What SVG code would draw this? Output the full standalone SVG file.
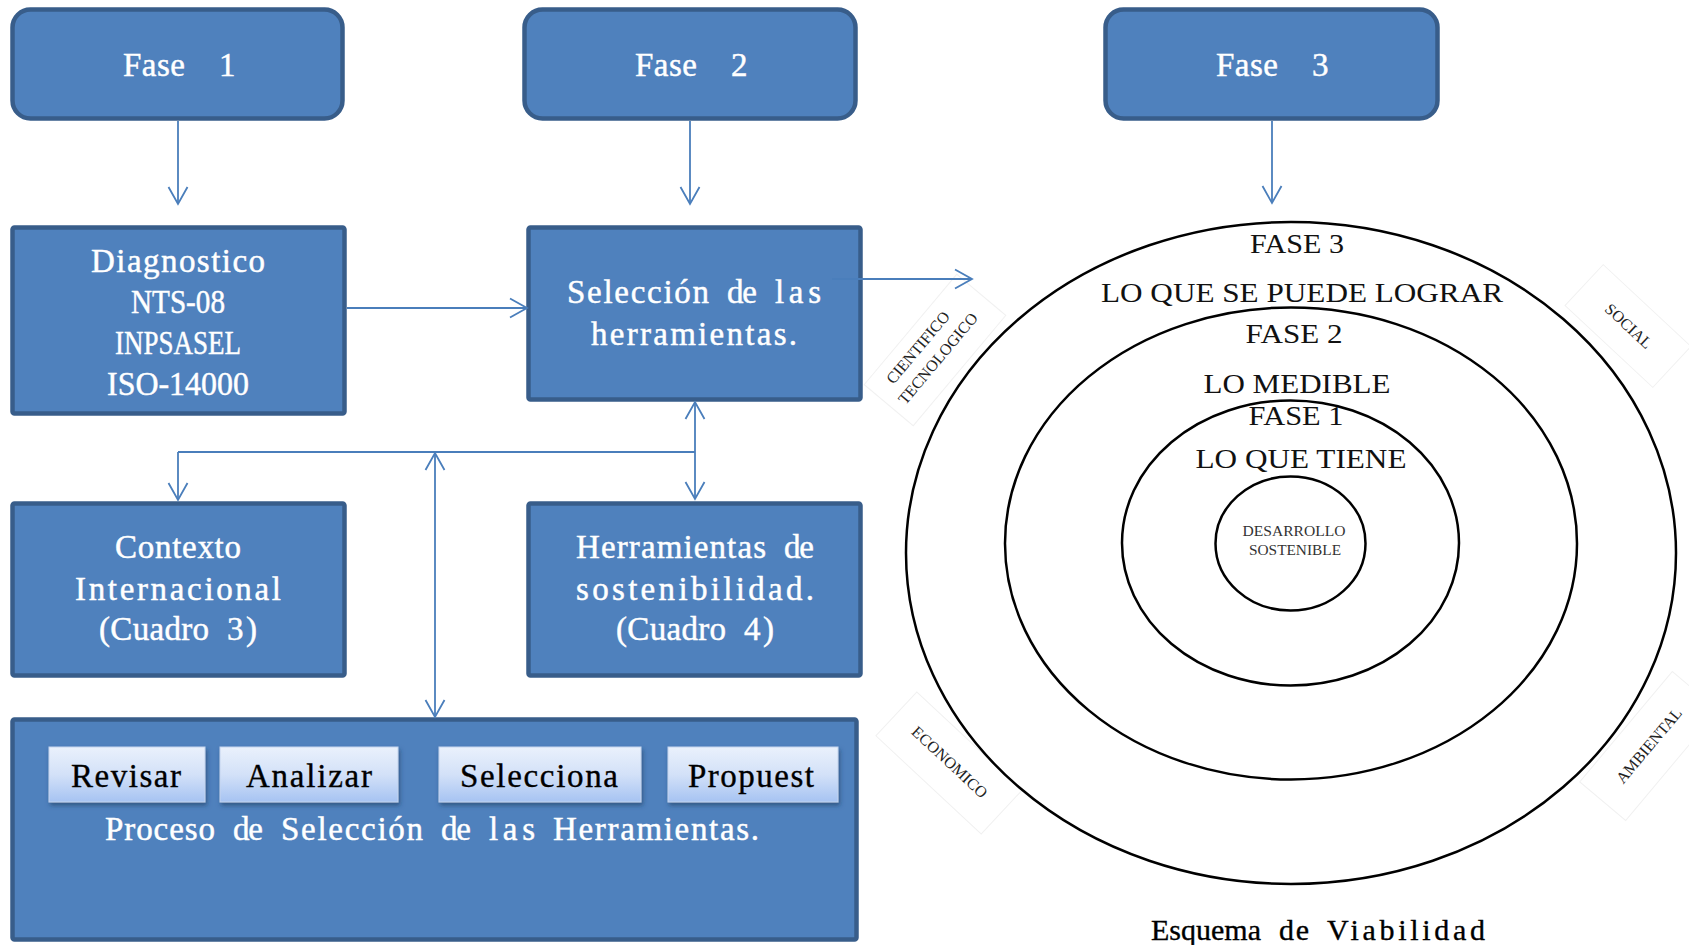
<svg xmlns="http://www.w3.org/2000/svg" width="1689" height="945" viewBox="0 0 1689 945">
<style>
.box{fill:#4F81BD;stroke:#385D8A;stroke-width:4.5}
.wt{font-family:"Liberation Serif",serif;font-size:33px;fill:#FFFFFF;stroke:#FFFFFF;stroke-width:0.45;text-anchor:start}
.bt{font-family:"Liberation Serif",serif;font-size:33px;fill:#000000;stroke:#000000;stroke-width:0.35;text-anchor:start}
.btn{fill:url(#btnGrad);stroke:#C3D4EE;stroke-width:1;filter:url(#sh)}
.conn{fill:none;stroke:#4A7EBB;stroke-width:1.8}
.ell{fill:none;stroke:#000000;stroke-width:2.5}
.et{font-family:"Liberation Serif",serif;font-size:27px;fill:#111111;text-anchor:middle}
.st{font-family:"Liberation Serif",serif;font-size:14px;fill:#333333;text-anchor:middle}
.lab{font-family:"Liberation Serif",serif;font-size:16px;fill:#222222;text-anchor:middle}
.faint{fill:none;stroke:#F1F1F1;stroke-width:1}
</style>
<defs>
<linearGradient id="btnGrad" x1="0" y1="0" x2="0" y2="1">
<stop offset="0" stop-color="#EAF1FC"/>
<stop offset="0.5" stop-color="#D3E1F8"/>
<stop offset="1" stop-color="#A6C3F2"/>
</linearGradient>
<filter id="sh" x="-10%" y="-20%" width="125%" height="160%">
<feDropShadow dx="1.5" dy="3" stdDeviation="2" flood-color="#1F3A60" flood-opacity="0.6"/>
</filter>
<marker id="arr" viewBox="0 0 18 20" refX="17.5" refY="10" markerWidth="18" markerHeight="20" markerUnits="userSpaceOnUse" orient="auto-start-reverse" overflow="visible">
<path d="M0.5,0.5 L17.5,10 L0.5,19.5" fill="none" stroke="#4A7EBB" stroke-width="1.8"/>
</marker>
</defs>
<rect x="0" y="0" width="1689" height="945" fill="#FFFFFF"/>

<g id="fase1">
<rect class="box" x="12.5" y="9.5" width="330" height="109" rx="18"/>
<text class="wt" y="76" xml:space="preserve"><tspan x="123" textLength="62" lengthAdjust="spacing">Fase</tspan>  <tspan x="219">1</tspan></text>
</g>
<g id="fase2">
<rect class="box" x="524.5" y="9.5" width="331" height="109" rx="18"/>
<text class="wt" y="76" xml:space="preserve"><tspan x="635" textLength="62" lengthAdjust="spacing">Fase</tspan>  <tspan x="731">2</tspan></text>
</g>
<g id="fase3">
<rect class="box" x="1105.5" y="9.5" width="332" height="109" rx="18"/>
<text class="wt" y="76" xml:space="preserve"><tspan x="1216" textLength="62" lengthAdjust="spacing">Fase</tspan>  <tspan x="1312">3</tspan></text>
</g>

<g id="diagnostico">
<rect class="box" x="12.5" y="227.5" width="332" height="186" rx="2"/>
<text class="wt" x="91" y="272" textLength="174" lengthAdjust="spacing">Diagnostico</text>
<text class="wt" x="131" y="313" textLength="94" lengthAdjust="spacingAndGlyphs">NTS-08</text>
<text class="wt" x="115" y="354" textLength="126" lengthAdjust="spacingAndGlyphs">INPSASEL</text>
<text class="wt" x="107" y="395" textLength="142" lengthAdjust="spacingAndGlyphs">ISO-14000</text>
</g>

<g id="seleccion">
<rect class="box" x="528.5" y="227.5" width="332" height="172" rx="2"/>
<text class="wt" y="303"><tspan x="567" textLength="142" lengthAdjust="spacing">Selección</tspan> <tspan x="727" textLength="30" lengthAdjust="spacing">de</tspan> <tspan x="775" textLength="46" lengthAdjust="spacing">las</tspan></text>
<text class="wt" x="591" y="345" textLength="206" lengthAdjust="spacing">herramientas.</text>
</g>

<g id="contexto">
<rect class="box" x="12.5" y="503.5" width="332" height="172" rx="2"/>
<text class="wt" x="115" y="558" textLength="126" lengthAdjust="spacing">Contexto</text>
<text class="wt" x="75" y="600" textLength="206" lengthAdjust="spacing">Internacional</text>
<text class="wt" y="640"><tspan x="99" textLength="110" lengthAdjust="spacing">(Cuadro</tspan> <tspan x="227" textLength="30" lengthAdjust="spacing">3)</tspan></text>
</g>

<g id="herramientas">
<rect class="box" x="528.5" y="503.5" width="332" height="172" rx="2"/>
<text class="wt" y="558"><tspan x="576" textLength="190" lengthAdjust="spacing">Herramientas</tspan> <tspan x="784" textLength="30" lengthAdjust="spacing">de</tspan></text>
<text class="wt" x="576" y="600" textLength="238" lengthAdjust="spacing">sostenibilidad.</text>
<text class="wt" y="640"><tspan x="616" textLength="110" lengthAdjust="spacing">(Cuadro</tspan> <tspan x="744" textLength="30" lengthAdjust="spacing">4)</tspan></text>
</g>

<g id="proceso">
<rect class="box" x="12.5" y="719.5" width="844" height="220" rx="2"/>
<g id="btn-revisar">
<rect class="btn" x="49" y="747" width="156" height="55"/>
<text class="bt" x="71" y="787" textLength="110" lengthAdjust="spacing">Revisar</text>
</g>
<g id="btn-analizar">
<rect class="btn" x="220" y="747" width="178" height="55"/>
<text class="bt" x="246" y="787" textLength="126" lengthAdjust="spacing">Analizar</text>
</g>
<g id="btn-selecciona">
<rect class="btn" x="439" y="747" width="202" height="55"/>
<text class="bt" x="460" y="787" textLength="158" lengthAdjust="spacing">Selecciona</text>
</g>
<g id="btn-propuest">
<rect class="btn" x="668" y="747" width="170" height="55"/>
<text class="bt" x="688" y="787" textLength="126" lengthAdjust="spacing">Propuest</text>
</g>
<text class="wt" y="840"><tspan x="105" textLength="110" lengthAdjust="spacing">Proceso</tspan> <tspan x="233" textLength="30" lengthAdjust="spacing">de</tspan> <tspan x="281" textLength="142" lengthAdjust="spacing">Selección</tspan> <tspan x="441" textLength="30" lengthAdjust="spacing">de</tspan> <tspan x="489" textLength="46" lengthAdjust="spacing">las</tspan> <tspan x="553" textLength="206" lengthAdjust="spacing">Herramientas.</tspan></text>
</g>

<g id="esquema">
<rect class="faint" x="-72" y="-32" width="144" height="64" transform="translate(935,350) rotate(-50)"/>
<rect class="faint" x="-60" y="-28" width="120" height="56" transform="translate(1628,326) rotate(43)"/>
<rect class="faint" x="-72" y="-30" width="144" height="60" transform="translate(949,763) rotate(43)"/>
<rect class="faint" x="-72" y="-30" width="144" height="60" transform="translate(1649,746) rotate(-50)"/>
<ellipse class="ell" cx="1291" cy="553" rx="385" ry="331"/>
<ellipse class="ell" cx="1291" cy="543.5" rx="286" ry="236"/>
<ellipse class="ell" cx="1290.5" cy="543" rx="168.5" ry="142.5"/>
<ellipse class="ell" cx="1290.5" cy="543.5" rx="75" ry="67"/>
<text class="et" x="1297" y="253" textLength="94" lengthAdjust="spacingAndGlyphs">FASE 3</text>
<text class="et" x="1302" y="302" textLength="402" lengthAdjust="spacingAndGlyphs">LO QUE SE PUEDE LOGRAR</text>
<text class="et" x="1294" y="343" textLength="97" lengthAdjust="spacingAndGlyphs">FASE 2</text>
<text class="et" x="1297" y="393" textLength="187" lengthAdjust="spacingAndGlyphs">LO MEDIBLE</text>
<text class="et" x="1296" y="425" textLength="95" lengthAdjust="spacingAndGlyphs">FASE 1</text>
<text class="et" x="1301" y="468" textLength="211" lengthAdjust="spacingAndGlyphs">LO QUE TIENE</text>
<text class="st" x="1294" y="536" textLength="103" lengthAdjust="spacingAndGlyphs">DESARROLLO</text>
<text class="st" x="1295" y="555" textLength="92" lengthAdjust="spacingAndGlyphs">SOSTENIBLE</text>
<text class="lab" transform="translate(922,351) rotate(-50)">CIENTIFICO</text>
<text class="lab" transform="translate(942,362) rotate(-50)">TECNOLOGICO</text>
<text class="lab" transform="translate(1625,330) rotate(43)">SOCIAL</text>
<text class="lab" transform="translate(946,766) rotate(43)">ECONOMICO</text>
<text class="lab" transform="translate(1653,749) rotate(-50)">AMBIENTAL</text>
<text class="bt" style="font-size:30px" y="940"><tspan x="1151" textLength="110" lengthAdjust="spacing">Esquema</tspan> <tspan x="1279" textLength="30" lengthAdjust="spacing">de</tspan> <tspan x="1327" textLength="158" lengthAdjust="spacing">Viabilidad</tspan></text>
</g>

<g id="connectors">
<path class="conn" d="M178,121 L178,204" marker-end="url(#arr)"/>
<path class="conn" d="M690,121 L690,204" marker-end="url(#arr)"/>
<path class="conn" d="M1272,121 L1272,203" marker-end="url(#arr)"/>
<path class="conn" d="M347,308 L527,308" marker-end="url(#arr)"/>
<path class="conn" d="M832,279 L972,279" marker-end="url(#arr)"/>
<path class="conn" d="M695,402 L695,499" marker-start="url(#arr)" marker-end="url(#arr)"/>
<path class="conn" d="M178,452 L695,452"/>
<path class="conn" d="M178,452 L178,500" marker-end="url(#arr)"/>
<path class="conn" d="M435,453 L435,717" marker-start="url(#arr)" marker-end="url(#arr)"/>
</g>
</svg>
